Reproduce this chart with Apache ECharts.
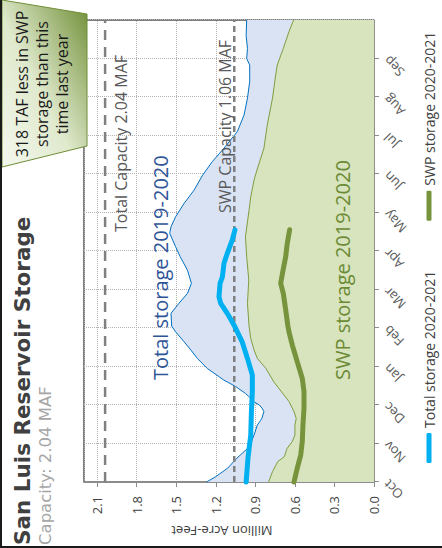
<!DOCTYPE html>
<html>
<head>
<meta charset="utf-8">
<script src="https://cdn.jsdelivr.net/npm/echarts@6/dist/echarts.min.js"></script>
<style>
html,body{margin:0;padding:0;background:#fff;width:442px;height:548px;overflow:hidden;}
#wrap{position:absolute;left:0;top:0;width:548px;height:442px;transform-origin:0 0;transform:translate(0,548px) rotate(-90deg);}
#chart{width:548px;height:442px;}
</style>
</head>
<body>
<div id="wrap"><div id="chart"></div></div>
<script>
// months of the water year (Oct -> Sep); x = months since Oct 1
const months = ['Oct','Nov','Dec','Jan','Feb','Mar','Apr','May','Jun','Jul','Aug','Sep'];
const valueTicks = [0.0,0.3,0.6,0.9,1.2,1.5,1.8,2.1];

// [month, million acre-feet]
const total1920 = [[0,1.27],[0.14,1.20],[0.36,1.11],[0.62,1.04],[0.87,0.96],[1.0,0.935],[1.22,0.91],[1.48,0.885],[1.6,0.86],[1.66,0.85],[1.83,0.835],[1.92,0.85],[2.0,0.87],[2.08,0.91],[2.22,0.95],[2.3,0.975],[2.48,1.05],[2.65,1.14],[2.95,1.265],[3.21,1.34],[3.43,1.39],[3.64,1.44],[3.9,1.505],[4.05,1.535],[4.38,1.54],[4.64,1.48],[4.9,1.415],[5.16,1.385],[5.5,1.415],[5.85,1.47],[6.11,1.505],[6.46,1.55],[6.63,1.54],[6.89,1.505],[7.24,1.44],[7.58,1.365],[7.97,1.30],[8.32,1.227],[8.67,1.138],[9.1,1.037],[9.53,0.986],[9.97,0.96],[10.4,0.943],[10.83,0.943],[11.0,0.966],[11.26,0.96],[11.6,0.97],[12,0.966]];
const swp1920 = [[0,0.80],[0.27,0.77],[0.53,0.73],[0.66,0.68],[0.87,0.66],[1.05,0.62],[1.22,0.60],[1.48,0.60],[1.65,0.59],[1.83,0.607],[2.09,0.645],[2.26,0.683],[2.6,0.76],[2.95,0.82],[3.21,0.885],[3.43,0.91],[3.73,0.935],[4.05,0.948],[4.64,0.96],[5.25,0.95],[5.85,0.966],[6.37,0.975],[7.06,0.948],[7.41,0.935],[7.84,0.91],[8.08,0.89],[8.67,0.835],[9.27,0.81],[9.97,0.77],[10.57,0.746],[10.83,0.734],[11.26,0.688],[11.7,0.645],[12,0.61]];
const total2021 = [[0,0.97],[0.62,0.956],[1.22,0.935],[1.83,0.93],[2.35,0.923],[2.78,0.923],[3.21,0.96],[3.64,1.0],[4.05,1.058],[4.38,1.113],[4.64,1.163],[4.81,1.176],[5.16,1.168],[5.33,1.15],[5.68,1.138],[5.94,1.113],[6.29,1.075],[6.55,1.055]];
const swp2021 = [[0,0.607],[0.36,0.582],[0.7,0.556],[1.05,0.544],[1.48,0.539],[1.91,0.531],[2.35,0.531],[2.69,0.544],[3.12,0.582],[3.56,0.62],[3.9,0.645],[4.05,0.653],[4.47,0.67],[4.9,0.688],[5.16,0.708],[5.5,0.69],[5.85,0.67],[6.2,0.658],[6.55,0.64]];
const totalCapacity = 2.04;
const swpCapacity = 1.06;

const FONT = "'Open Sans', sans-serif";
const TFONT = "'DejaVu Sans', sans-serif";
const chart = echarts.init(document.getElementById('chart'), null, {renderer:'svg'});

function capLine(v){ return [[0,v],[12,v]]; }

const option = {
  animation:false,
  grid:{left:66,right:20,top:84,bottom:68,show:true,borderColor:'#000',borderWidth:1,backgroundColor:'#fff'},
  xAxis:{type:'value',min:0,max:12,interval:1,
    axisLine:{show:true,onZero:false,lineStyle:{color:'#8c8c8c',width:1.5}},
    axisTick:{show:true,length:5,lineStyle:{color:'#8c8c8c'}},
    axisLabel:{rotate:45,fontSize:13,color:'#595959',fontFamily:FONT,margin:12,showMaxLabel:false,
      formatter:v=>months[Math.round(v)]||''},
    splitLine:{show:true,lineStyle:{type:'dotted',color:'#b3b3b3',width:1}}
  },
  yAxis:{type:'value',min:0,max:2.2,interval:0.3,
    axisLine:{show:true,lineStyle:{color:'#8c8c8c',width:2}},
    axisTick:{show:true,length:5,lineStyle:{color:'#8c8c8c'}},
    axisLabel:{fontSize:13,color:'#404040',fontFamily:FONT,margin:14,showMaxLabel:false,
      formatter:v=>valueTicks.find(t=>Math.abs(t-v)<1e-6)!==undefined?v.toFixed(1):''},
    splitLine:{show:true,lineStyle:{type:'dotted',color:'#b3b3b3',width:1}}
  },
  legend:{left:80,top:417,itemWidth:30,itemHeight:5,itemGap:50,itemTextGap:4,
    textStyle:{fontSize:14,color:'#404040',fontFamily:FONT},
    data:[{name:'Total storage 2020-2021',icon:'roundRect'},{name:'SWP storage 2020-2021',icon:'roundRect'}]},
  series:[
    {name:'Total storage 2019-2020',type:'line',data:total1920,symbol:'none',color:'#0070c0',
      lineStyle:{width:1,color:'#0070c0'},areaStyle:{color:'#dae3f3',opacity:1},z:2},
    {name:'SWP storage 2019-2020',type:'line',data:swp1920,symbol:'none',color:'#77933c',
      lineStyle:{width:1,color:'#7f9c42'},areaStyle:{color:'#d7e4bd',opacity:1},z:3},
    {name:'Total Capacity',type:'line',data:capLine(totalCapacity),symbol:'none',
      lineStyle:{width:2.5,color:'#808080',type:[10,7]},z:4},
    {name:'SWP Capacity',type:'line',data:capLine(swpCapacity),symbol:'none',
      lineStyle:{width:2.5,color:'#808080',type:[6,4]},z:4},
    {name:'Total storage 2020-2021',type:'line',data:total2021,symbol:'none',color:'#00b0f0',
      lineStyle:{width:5,color:'#00b0f0',cap:'round'},z:5},
    {name:'SWP storage 2020-2021',type:'line',data:swp2021,symbol:'none',color:'#77933c',
      lineStyle:{width:5,color:'#77933c',cap:'round'},z:5}
  ],
  graphic:[
    {type:'rect',shape:{x:0,y:0,width:548,height:2},style:{fill:'#1a1a1a'},z:100},
    {type:'rect',shape:{x:0,y:0,width:2,height:442},style:{fill:'#1a1a1a'},z:100},
    {type:'text',x:3,y:22,style:{text:'San Luis Reservoir Storage',font:"bold 21.5px "+TFONT,fill:'#404040',align:'left',verticalAlign:'middle'},z:50},
    {type:'text',x:3,y:45,style:{text:'Capacity: 2.04 MAF',font:"16.5px "+TFONT,fill:'#a6a6a6',align:'left',verticalAlign:'middle'},z:50},
    {type:'text',x:17,y:222,rotation:Math.PI/2,style:{text:'Million Acre-Feet',font:"13px "+FONT,fill:'#404040',align:'center',verticalAlign:'middle'},z:50},
    {type:'polygon',shape:{points:[[381,2],[548,2],[534,87],[402,87]]},
      style:{fill:{type:'linear',x:0,y:0,x2:1,y2:1,colorStops:[{offset:0,color:'#f5f8ef'},{offset:0.45,color:'#dfe9cc'},{offset:1,color:'#6f8e36'}]},stroke:'#6f8e36',lineWidth:1},z:60},
    {type:'text',x:464,y:42,style:{text:'318 TAF less in SWP\nstorage than this\ntime last year',font:"16px "+FONT,lineHeight:20,fill:'#1a1a1a',align:'center',verticalAlign:'middle'},z:61},
    {type:'text',x:316,y:121,style:{text:'Total Capacity 2.04 MAF',font:"16px "+FONT,fill:'#595959',align:'left',verticalAlign:'middle'},z:40},
    {type:'text',x:335,y:225,style:{text:'SWP Capacity 1.06 MAF',font:"16px "+FONT,fill:'#595959',align:'left',verticalAlign:'middle'},z:40},
    {type:'text',x:168,y:160,style:{text:'Total storage 2019-2020',font:"20px "+FONT,fill:'#2f5597',align:'left',verticalAlign:'middle'},z:40},
    {type:'text',x:168,y:342,style:{text:'SWP storage 2019-2020',font:"20px "+FONT,fill:'#6b8a35',align:'left',verticalAlign:'middle'},z:40}
  ]
};
chart.setOption(option);
</script>
</body>
</html>
